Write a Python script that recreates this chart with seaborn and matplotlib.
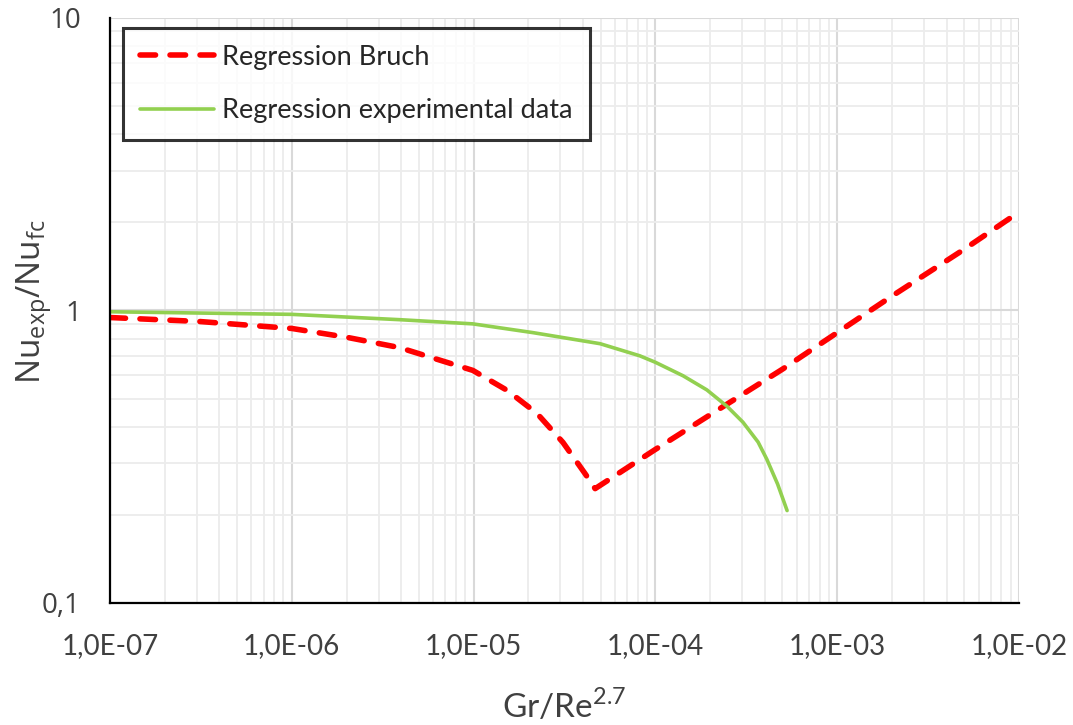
import numpy as np
import pandas as pd
import seaborn as sns
import matplotlib.pyplot as plt
from matplotlib.ticker import LogLocator, FuncFormatter, NullFormatter

# Regression Bruch
bruch_x = [1e-7, 3.1e-7, 1e-6, 2e-6, 3.9e-6, 9.9e-6, 1.53e-5, 2.23e-5, 3.1e-5, 4.1e-5, 4.66e-5,
           1e-4, 2e-4, 5e-4, 1e-3, 2e-3, 5e-3, 1e-2]
bruch_y = [0.946, 0.917, 0.868, 0.81, 0.747, 0.624, 0.533, 0.445, 0.354, 0.277, 0.246,
           0.335, 0.44, 0.63, 0.84, 1.12, 1.62, 2.17]

# Regression experimental data
exp_x = [1e-7, 1e-6, 3.94e-6, 9.9e-6, 2.12e-5, 4.96e-5, 8.2e-5, 1.0e-4, 1.42e-4, 1.92e-4,
         2.48e-4, 3.03e-4, 3.67e-4, 4.1e-4, 4.7e-4, 5.3e-4]
exp_y = [0.99, 0.97, 0.93, 0.90, 0.84, 0.77, 0.70, 0.665, 0.598, 0.535,
         0.47, 0.415, 0.355, 0.31, 0.255, 0.207]

bruch = pd.DataFrame({'x': bruch_x, 'y': bruch_y})
expdata = pd.DataFrame({'x': exp_x, 'y': exp_y})

sns.set_style('white')
plt.rcParams['font.family'] = ['Lato', 'DejaVu Sans']

fig = plt.figure(figsize=(10.73, 7.25), dpi=100)
ax = fig.add_axes([0.1025, 0.1683, 0.8472, 0.8069])

sns.lineplot(data=bruch, x='x', y='y', ax=ax, color='#ff0000', lw=4,
             sort=False, estimator=None, label='Regression Bruch')
ax.lines[-1].set_dashes([2.8, 2.6])
ax.lines[-1].set_dash_capstyle('round')
sns.lineplot(data=expdata, x='x', y='y', ax=ax, color='#92d050', lw=2.6,
             sort=False, estimator=None, label='Regression experimental data')

ax.set_xscale('log')
ax.set_yscale('log')
ax.set_xlim(1e-7, 1e-2)
ax.set_ylim(0.1, 10)

ax.xaxis.set_major_locator(LogLocator(base=10, numticks=20))
ax.xaxis.set_minor_locator(LogLocator(base=10, subs=np.arange(2, 10), numticks=50))
ax.yaxis.set_major_locator(LogLocator(base=10, numticks=20))
ax.yaxis.set_minor_locator(LogLocator(base=10, subs=np.arange(2, 10), numticks=50))

ax.xaxis.set_major_formatter(FuncFormatter(lambda v, p: '1,0E-%02d' % round(-np.log10(v))))
ax.yaxis.set_major_formatter(FuncFormatter(lambda v, p: {10: '10', 1: '1', 0.1: '0,1'}.get(round(v, 1), '')))
ax.xaxis.set_minor_formatter(NullFormatter())
ax.yaxis.set_minor_formatter(NullFormatter())

ax.grid(which='major', color='#d9d9d9', lw=1.5)
ax.grid(which='minor', color='#ececec', lw=1.3)
ax.set_axisbelow(True)

for s in ['top', 'right']:
    ax.spines[s].set_visible(False)
for s in ['left', 'bottom']:
    ax.spines[s].set_color('black')
    ax.spines[s].set_linewidth(1.6)

ax.tick_params(which='major', direction='out', length=7, width=1.6, color='black')
ax.tick_params(which='minor', direction='out', length=6, width=1.6, color='black')
ax.tick_params(axis='x', which='major', labelsize=20, pad=15)
ax.tick_params(axis='y', which='major', labelsize=20, pad=14)
for t in ax.get_yticklabels():
    t.set_family(['Open Sans', 'DejaVu Sans'])
    t.set_color('#404040')
for t in ax.get_xticklabels():
    t.set_color('#404040')

ax.set_xlabel(r'Gr/Re$^{\mathregular{2.7}}$', fontsize=24, color='#404040')
ax.xaxis.set_label_coords(0.5, -0.1436)
ax.set_ylabel(r'Nu$_{\mathregular{exp}}$/Nu$_{\mathregular{fc}}$', fontsize=24,
              color='#404040', family=['Open Sans', 'DejaVu Sans'])
ax.yaxis.set_label_coords(-0.061, 0.515)

leg = ax.legend(loc='upper left', bbox_to_anchor=(0.0143, 0.983), borderaxespad=0,
                fontsize=19.5, frameon=True, fancybox=False, edgecolor='black',
                handlelength=2.75, labelspacing=1.05, borderpad=0.62, handletextpad=0.3)
leg.get_frame().set_linewidth(2.2)
for t in leg.get_texts():
    t.set_color('#262626')

fig.savefig('out.png', dpi=100)
